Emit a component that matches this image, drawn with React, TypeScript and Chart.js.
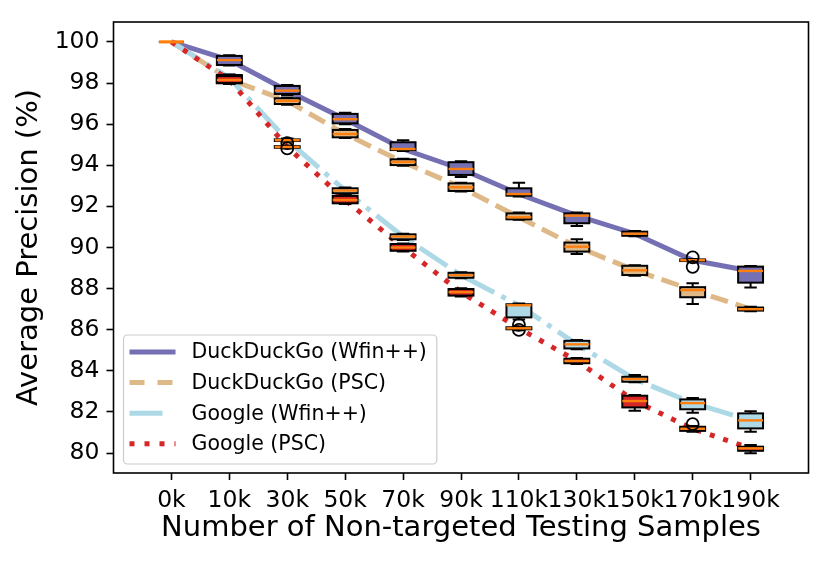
import React, { useEffect, useRef } from 'react';
import { Chart, registerables } from 'chart.js';

Chart.register(...registerables);

const categories = ['0k', '10k', '30k', '50k', '70k', '90k', '110k', '130k', '150k', '170k', '190k'];
const yTicks = [80, 82, 84, 86, 88, 90, 92, 94, 96, 98, 100];

// DuckDuckGo (Wfin++)
const ddgWfinMed = [100, 99.12, 97.63, 96.24, 94.79, 93.82, 92.6, 91.55, 90.67, 89.38, 88.86];
const ddgWfinQ1 = [100, 98.88, 97.47, 96.04, 94.74, 93.53, 92.52, 91.18, 90.57, 89.34, 88.29];
const ddgWfinQ3 = [100, 99.32, 97.86, 96.5, 95.12, 94.15, 92.88, 91.66, 90.77, 89.42, 89.07];
const ddgWfinLo = [100, 98.85, 97.42, 96.0, 94.7, 93.43, 92.48, 91.05, 90.55, 89.32, 88.06];
const ddgWfinHi = [100, 99.35, 97.9, 96.55, 95.22, 94.2, 93.15, 91.7, 90.8, 89.44, 89.1];
const ddgWfinFliers: number[][] = [[], [], [], [], [], [], [], [], [], [89.52, 89.06], []];

// DuckDuckGo (PSC)
const ddgPscMed = [100, 98.18, 97.13, 95.52, 94.16, 92.93, 91.47, 90.04, 88.89, 87.93, 87.0];
const ddgPscQ1 = [100, 97.99, 96.98, 95.36, 94.01, 92.75, 91.37, 89.8, 88.66, 87.58, 86.93];
const ddgPscQ3 = [100, 98.39, 97.26, 95.72, 94.29, 93.12, 91.66, 90.24, 89.11, 88.07, 87.08];
const ddgPscLo = [100, 97.96, 96.95, 95.33, 93.98, 92.72, 91.35, 89.68, 88.63, 87.25, 86.9];
const ddgPscHi = [100, 98.42, 97.3, 95.77, 94.32, 93.15, 91.7, 90.4, 89.14, 88.26, 87.12];
const ddgPscFliers: number[][] = [[], [], [], [], [], [], [], [], [], [], []];

// Google (Wfin++)
const gWfinMed = [100, 98.25, 95.22, 92.77, 90.53, 88.65, 87.19, 85.29, 83.6, 82.43, 81.59];
const gWfinQ1 = [100, 98.02, 95.18, 92.64, 90.4, 88.53, 86.6, 85.09, 83.47, 82.13, 81.2];
const gWfinQ3 = [100, 98.36, 95.26, 92.88, 90.64, 88.77, 87.24, 85.46, 83.71, 82.61, 81.93];
const gWfinLo = [100, 97.98, 95.15, 92.6, 90.37, 88.5, 86.5, 85.05, 83.45, 81.96, 81.04];
const gWfinHi = [100, 98.4, 95.3, 92.92, 90.67, 88.8, 87.28, 85.5, 83.8, 82.68, 82.04];
const gWfinFliers: number[][] = [[], [], [95.08], [], [], [], [86.24, 85.99], [], [], [], []];

// Google (PSC)
const gPscMed = [100, 98.15, 94.89, 92.31, 90.0, 87.83, 86.07, 84.48, 82.53, 81.18, 80.23];
const gPscQ1 = [100, 98.0, 94.85, 92.15, 89.84, 87.66, 86.02, 84.37, 82.22, 81.08, 80.11];
const gPscQ3 = [100, 98.34, 94.93, 92.51, 90.17, 87.98, 86.12, 84.59, 82.79, 81.28, 80.31];
const gPscLo = [100, 97.96, 94.82, 92.12, 89.8, 87.62, 85.98, 84.33, 82.06, 81.04, 79.99];
const gPscHi = [100, 98.38, 94.96, 92.55, 90.2, 88.02, 86.16, 84.63, 82.82, 81.32, 80.39];
const gPscFliers: number[][] = [[], [], [94.82], [], [], [], [], [], [], [81.41], []];

const FONT = "'DejaVu Sans', sans-serif";

type Series = {
  label: string;
  color: string;
  dash: number[];
  legendDash: number[];
  med: number[];
  q1: number[];
  q3: number[];
  lo: number[];
  hi: number[];
  fliers: number[][];
};

const series: Series[] = [
  { label: 'DuckDuckGo (Wfin++)', color: '#7570b3', dash: [], legendDash: [], med: ddgWfinMed, q1: ddgWfinQ1, q3: ddgWfinQ3, lo: ddgWfinLo, hi: ddgWfinHi, fliers: ddgWfinFliers },
  { label: 'DuckDuckGo (PSC)', color: '#deb887', dash: [18, 8], legendDash: [15, 13], med: ddgPscMed, q1: ddgPscQ1, q3: ddgPscQ3, lo: ddgPscLo, hi: ddgPscHi, fliers: ddgPscFliers },
  { label: 'Google (Wfin++)', color: '#add8e6', dash: [33, 8, 5, 8], legendDash: [33, 20], med: gWfinMed, q1: gWfinQ1, q3: gWfinQ3, lo: gWfinLo, hi: gWfinHi, fliers: gWfinFliers },
  { label: 'Google (PSC)', color: '#d62728', dash: [5, 9], legendDash: [5, 10], med: gPscMed, q1: gPscQ1, q3: gPscQ3, lo: gPscLo, hi: gPscHi, fliers: gPscFliers },
];

const BOX_W = 0.43; // in x data units

const boxPlugin = {
  id: 'mplBoxes',
  afterDatasetsDraw(chart: any) {
    const ctx = chart.ctx as CanvasRenderingContext2D;
    const xs = chart.scales.x;
    const ys = chart.scales.y;
    const half = (xs.getPixelForValue(1 + BOX_W / 2) - xs.getPixelForValue(1));
    ctx.save();
    for (const s of series) {
      s.med.forEach((m, i) => {
        const px = xs.getPixelForValue(i + 1);
        const yMed = ys.getPixelForValue(m);
        const yQ1 = ys.getPixelForValue(s.q1[i]);
        const yQ3 = ys.getPixelForValue(s.q3[i]);
        const yLo = ys.getPixelForValue(s.lo[i]);
        const yHi = ys.getPixelForValue(s.hi[i]);
        ctx.setLineDash([]);
        ctx.strokeStyle = '#000';
        ctx.lineWidth = 2;
        ctx.lineCap = 'butt';
        ctx.beginPath();
        ctx.moveTo(px, yQ1); ctx.lineTo(px, yLo);
        ctx.moveTo(px, yQ3); ctx.lineTo(px, yHi);
        ctx.moveTo(px - half / 2, yLo); ctx.lineTo(px + half / 2, yLo);
        ctx.moveTo(px - half / 2, yHi); ctx.lineTo(px + half / 2, yHi);
        ctx.stroke();
        ctx.fillStyle = s.color;
        ctx.fillRect(px - half, yQ3, 2 * half, yQ1 - yQ3);
        ctx.strokeRect(px - half, yQ3, 2 * half, yQ1 - yQ3);
        ctx.strokeStyle = '#ff7f0e';
        ctx.lineWidth = 2.4;
        ctx.beginPath();
        ctx.moveTo(px - half, yMed); ctx.lineTo(px + half, yMed);
        ctx.stroke();
        ctx.strokeStyle = '#000';
        ctx.lineWidth = 1.8;
        for (const f of s.fliers[i]) {
          ctx.beginPath();
          ctx.arc(px, ys.getPixelForValue(f), 6, 0, Math.PI * 2);
          ctx.stroke();
        }
      });
    }
    ctx.restore();
  },
};

const framePlugin = {
  id: 'mplFrameLegend',
  afterDraw(chart: any) {
    const ctx = chart.ctx as CanvasRenderingContext2D;
    const { left, right, top, bottom } = chart.chartArea;
    ctx.save();
    ctx.setLineDash([]);
    ctx.strokeStyle = '#000';
    ctx.lineWidth = 1.6;
    ctx.strokeRect(left, top, right - left, bottom - top);

    ctx.font = `20.5px ${FONT}`;
    const textW = Math.max(...series.map((s) => ctx.measureText(s.label).width));
    const bx = left + 10;
    const bh = 129;
    const by = bottom - 9 - bh;
    const textX = bx + 68;
    const bw = textX - bx + textW + 10;
    const r = 4;
    ctx.beginPath();
    ctx.moveTo(bx + r, by);
    ctx.arcTo(bx + bw, by, bx + bw, by + bh, r);
    ctx.arcTo(bx + bw, by + bh, bx, by + bh, r);
    ctx.arcTo(bx, by + bh, bx, by, r);
    ctx.arcTo(bx, by, bx + bw, by, r);
    ctx.closePath();
    ctx.fillStyle = 'rgba(255,255,255,0.8)';
    ctx.fill();
    ctx.strokeStyle = '#cccccc';
    ctx.lineWidth = 1.2;
    ctx.stroke();

    series.forEach((s, i) => {
      const cy = by + 17 + i * 30.6;
      ctx.strokeStyle = s.color;
      ctx.lineWidth = 5;
      ctx.lineCap = 'butt';
      ctx.setLineDash(s.legendDash);
      ctx.beginPath();
      ctx.moveTo(bx + 6, cy);
      ctx.lineTo(bx + 52, cy);
      ctx.stroke();
      ctx.setLineDash([]);
      ctx.fillStyle = '#000';
      ctx.textAlign = 'left';
      ctx.textBaseline = 'middle';
      ctx.fillText(s.label, textX, cy + 1);
    });
    ctx.restore();
  },
};

export default function App() {
  const ref = useRef<HTMLCanvasElement | null>(null);
  useEffect(() => {
    if (!ref.current) return;
    const chart = new Chart(ref.current, {
      type: 'line',
      data: {
        datasets: series.map((s, idx) => ({
          label: s.label,
          data: s.med.map((v, i) => ({ x: i + 1, y: v })),
          borderColor: s.color,
          backgroundColor: s.color,
          borderWidth: 5,
          borderDash: s.dash,
          borderCapStyle: 'butt' as const,
          pointRadius: 0,
          tension: 0,
          fill: false,
          order: series.length - 1 - idx,
        })),
      },
      options: {
        animation: false,
        responsive: true,
        maintainAspectRatio: false,
        layout: { padding: { top: 22, right: 22.5, left: 0, bottom: 0 } },
        plugins: { legend: { display: false }, tooltip: { enabled: false } },
        scales: {
          x: {
            type: 'linear',
            min: 0,
            max: 12,
            afterBuildTicks: (scale: any) => {
              scale.ticks = categories.map((_, i) => ({ value: i + 1 }));
            },
            afterFit: (scale: any) => {
              scale.height = 91;
            },
            ticks: {
              autoSkip: false,
              maxRotation: 0,
              minRotation: 0,
              padding: 7,
              color: '#000',
              font: { family: FONT, size: 23.5 },
              callback: (v: any) => categories[Number(v) - 1] ?? '',
            },
            grid: { display: true, drawOnChartArea: false, drawTicks: true, tickLength: 7, tickWidth: 1.6, tickColor: '#000' },
            border: { display: false },
            title: {
              display: true,
              text: 'Number of Non-targeted Testing Samples',
              color: '#000',
              font: { family: FONT, size: 29 },
              padding: { top: 0, bottom: 18 },
            },
          },
          y: {
            type: 'linear',
            min: 79.03,
            max: 100.97,
            afterBuildTicks: (scale: any) => {
              scale.ticks = yTicks.map((v) => ({ value: v }));
            },
            afterFit: (scale: any) => {
              scale.width = 113.5;
            },
            ticks: {
              padding: 7,
              color: '#000',
              font: { family: FONT, size: 23.5 },
              callback: (v: any) => String(v),
            },
            grid: { display: true, drawOnChartArea: false, drawTicks: true, tickLength: 7, tickWidth: 1.6, tickColor: '#000' },
            border: { display: false },
            title: {
              display: true,
              text: 'Average Precision (%)',
              color: '#000',
              font: { family: FONT, size: 29 },
              padding: { top: 12, bottom: 0 },
            },
          },
        },
      },
      plugins: [boxPlugin, framePlugin],
    });
    return () => chart.destroy();
  }, []);
  return (
    <div style={{ position: 'absolute', left: 0, top: 0, width: 831, height: 564, background: '#fff' }}>
      <canvas ref={ref} />
    </div>
  );
}
